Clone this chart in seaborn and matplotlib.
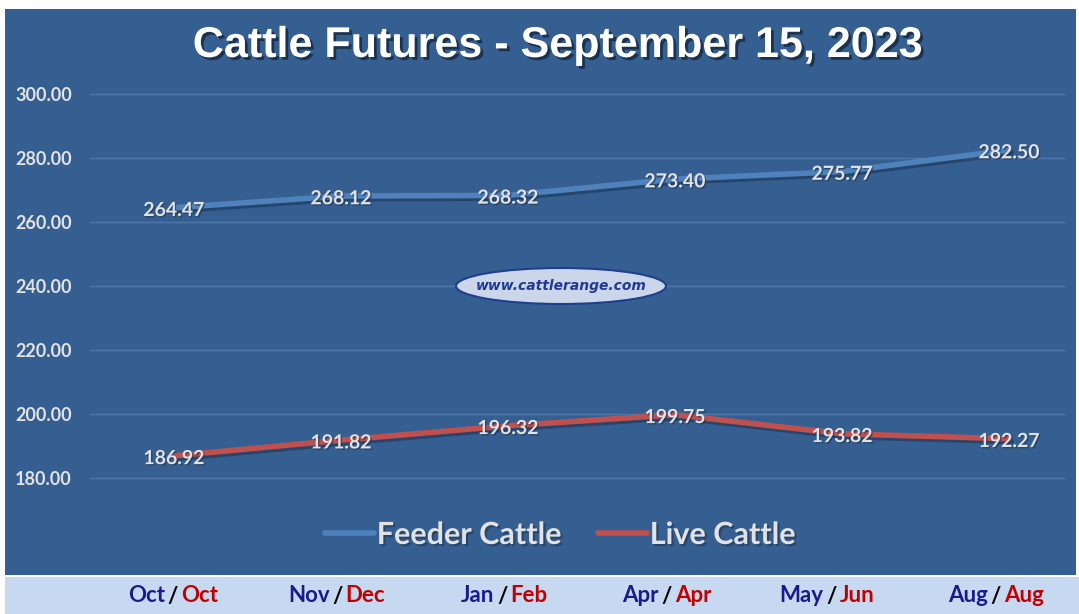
import matplotlib
matplotlib.use("Agg")
import matplotlib.pyplot as plt
import matplotlib.patheffects as pe
from matplotlib.patches import Rectangle, Ellipse
import numpy as np
import pandas as pd
import seaborn as sns

# ---- data ----
feeder_months = ["Oct", "Nov", "Jan", "Apr", "May", "Aug"]
live_months = ["Oct", "Dec", "Feb", "Apr", "Jun", "Aug"]
feeder_prices = [264.47, 268.12, 268.32, 273.40, 275.77, 282.50]
live_prices = [186.92, 191.82, 196.32, 199.75, 193.82, 192.27]
y_ticks = [180, 200, 220, 240, 260, 280, 300]
series_names = ["Feeder Cattle", "Live Cattle"]

panel_blue = "#365f91"
band_blue = "#c6d9f1"
grid_blue = "#5078a8"
label_grey = "#e2e2e2"
line_colors = {"Feeder Cattle": "#4f81bd", "Live Cattle": "#c0504d"}

df = pd.DataFrame({
    "pos": list(range(len(feeder_prices))) * 2,
    "price": feeder_prices + live_prices,
    "series": [series_names[0]] * len(feeder_prices) + [series_names[1]] * len(live_prices),
})

sns.set_theme(style="white")
plt.rcParams["font.family"] = ["Lato", "DejaVu Sans"]

W, H = 1079, 614
fig = plt.figure(figsize=(W / 100, H / 100), dpi=100)
fig.patch.set_facecolor("white")

# blue chart panel and the light band for the month labels
fig.patches.append(Rectangle((5 / W, (H - 575) / H), 1071 / W, 566 / H,
                             transform=fig.transFigure, facecolor=panel_blue,
                             edgecolor="none", zorder=-10))
fig.patches.append(Rectangle((5 / W, 0), 1074 / W, (H - 577) / H,
                             transform=fig.transFigure, facecolor=band_blue,
                             edgecolor="none", zorder=-10))

# axes placed in pixels: left 90, right 1065, top 80, bottom 575
ax = fig.add_axes([90 / W, (H - 575) / H, 975 / W, 495 / H])
ax.set_facecolor("none")

shadow = [pe.SimpleLineShadow(offset=(1.5, -2), shadow_color="#1c3556", alpha=0.6), pe.Normal()]

sns.lineplot(data=df, x="pos", y="price", hue="series", palette=line_colors,
             linewidth=4, ax=ax, legend=True, zorder=3)
for ln in ax.get_lines():
    ln.set_path_effects(shadow)
    ln.set_solid_capstyle("round")

# data labels
for prices in (feeder_prices, live_prices):
    for i, v in enumerate(prices):
        ax.annotate(f"{v:.2f}", (i, v), xytext=(0, -2), textcoords="offset points",
                    ha="center", va="center", fontsize=14, fontweight="bold",
                    color=label_grey, zorder=5,
                    path_effects=[pe.SimplePatchShadow(offset=(1, -1), shadow_rgbFace="#1c3556", alpha=0.6),
                                  pe.Normal()])

ax.set_xlim(-0.503, 5.335)
ax.set_ylim(180 - 97 / 3.2, 300 + 14 / 3.2)
ax.set_yticks(y_ticks)
ax.set_yticklabels([f"{t:.2f}" for t in y_ticks])
ax.set_xticks([])
ax.tick_params(axis="y", length=0, pad=13, labelsize=13, labelcolor=label_grey)
for lab in ax.get_yticklabels():
    lab.set_fontweight("bold")
ax.grid(axis="y", color=grid_blue, linewidth=1)
ax.set_xlabel("")
ax.set_ylabel("")
for s in ax.spines.values():
    s.set_visible(False)

# legend
handles, labels = ax.get_legend_handles_labels()
leg = ax.legend(handles, labels, loc="center", bbox_to_anchor=(560 / W, (H - 535) / H),
                bbox_transform=fig.transFigure, ncol=2, frameon=False,
                fontsize=22, handlelength=1.6, handletextpad=0.1, columnspacing=1.2)
for t in leg.get_texts():
    t.set_color(label_grey)
    t.set_fontweight("bold")
    t.set_path_effects([pe.SimplePatchShadow(offset=(1.5, -1.5), shadow_rgbFace="#1c3556", alpha=0.6),
                        pe.Normal()])
for h in leg.get_lines():
    h.set_linewidth(4)
    h.set_path_effects([])

# title
fig.text(557 / W, (H - 46) / H, "Cattle Futures - September 15, 2023",
         ha="center", va="center", fontsize=31, fontweight="bold", color="white",
         family=["Liberation Sans", "DejaVu Sans"],
         path_effects=[pe.SimplePatchShadow(offset=(2, -2), shadow_rgbFace="#0f2035", alpha=0.7),
                       pe.Normal()])

# watermark
ax.add_patch(Ellipse((561 / W, (H - 286) / H), 210 / W, 36 / H, transform=fig.transFigure,
                     facecolor="#cbd6ea", edgecolor="#1f3f8f", linewidth=1.5, zorder=4))
fig.text(561 / W, (H - 286) / H, "www.cattlerange.com", ha="center", va="center",
         fontsize=10, fontweight="bold", style="italic", color="#1f3a93", zorder=6,
         family=["DejaVu Sans"])

# month labels in the light band: feeder month / live month
band_left, band_step = 173, 164.6
y_band = (H - 596) / H
for i, (fm, lm) in enumerate(zip(feeder_months, live_months)):
    xc = (band_left + band_step * i) / W
    fig.text(xc, y_band, "/", ha="center", va="center", fontsize=16,
             fontweight="bold", color="black")
    fig.text(xc - 8 / W, y_band, fm, ha="right", va="center", fontsize=16,
             fontweight="bold", color="#1a1a8c")
    fig.text(xc + 8 / W, y_band, lm, ha="left", va="center", fontsize=16,
             fontweight="bold", color="#c00000")

fig.savefig("out.png", dpi=100, facecolor=fig.get_facecolor())
